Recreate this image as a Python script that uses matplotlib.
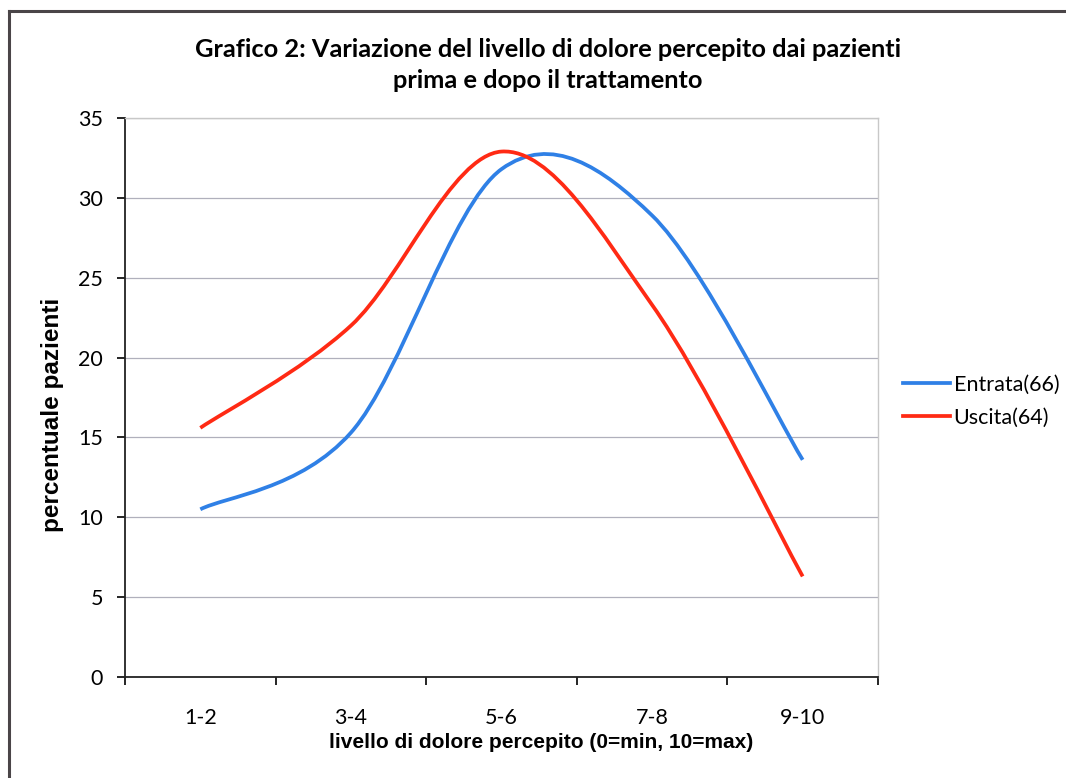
import matplotlib
matplotlib.use("Agg")
import matplotlib.pyplot as plt
from matplotlib.path import Path
from matplotlib.patches import PathPatch
from matplotlib.lines import Line2D

categories = ["1-2", "3-4", "5-6", "7-8", "9-10"]
entrata = [10.5, 15.3, 31.8, 28.9, 13.6]
uscita = [15.6, 22.0, 32.9, 23.3, 6.3]

BLUE = "#2f80e6"
RED = "#ff2a14"


def smooth_path(xs, ys):
    # excel-like smoothed line: cubic bezier through every point
    n = len(xs)
    verts = [(xs[0], ys[0])]
    codes = [Path.MOVETO]
    for i in range(n - 1):
        x0, y0 = xs[max(i - 1, 0)], ys[max(i - 1, 0)]
        x1, y1 = xs[i], ys[i]
        x2, y2 = xs[i + 1], ys[i + 1]
        x3, y3 = xs[min(i + 2, n - 1)], ys[min(i + 2, n - 1)]
        c1 = (x1 + (x2 - x0) / 6, y1 + (y2 - y0) / 6)
        c2 = (x2 - (x3 - x1) / 6, y2 - (y3 - y1) / 6)
        verts += [c1, c2, (x2, y2)]
        codes += [Path.CURVE4] * 3
    return Path(verts, codes)


fig = plt.figure(figsize=(10.66, 7.78), dpi=100)
ax = fig.add_axes([0.1173, 0.1298, 0.7063, 0.7185])

x = list(range(len(categories)))
for ys, col in ((entrata, BLUE), (uscita, RED)):
    patch = PathPatch(smooth_path(x, ys), facecolor="none", edgecolor=col,
                      lw=2.7, capstyle="butt", zorder=3)
    ax.add_patch(patch)

ax.set_xlim(-0.5, 4.5)
ax.set_ylim(0, 35)
ax.set_yticks(range(0, 36, 5))
ax.set_xticks([i - 0.5 for i in range(6)])
ax.set_xticklabels([])
ax.set_xticks(x, minor=True)
ax.set_xticklabels(categories, minor=True, fontfamily="Lato", fontsize=15.5)
ax.tick_params(axis="x", which="minor", length=0, pad=22)
ax.tick_params(axis="x", which="major", direction="out", length=6, width=1.2)
ax.tick_params(axis="y", direction="out", length=6, width=1.2, pad=10,
               labelsize=15.5)
for lab in ax.get_yticklabels():
    lab.set_fontfamily("Lato")
ax.yaxis.grid(True, color="#b0b0bc", lw=0.9)
ax.set_axisbelow(True)

for s in ("top", "right"):
    ax.spines[s].set_color("#c8c8c8")
    ax.spines[s].set_linewidth(1.0)
for s in ("left", "bottom"):
    ax.spines[s].set_color("#222222")
    ax.spines[s].set_linewidth(1.3)

fig.text(0.514, 0.937, "Grafico 2: Variazione del livello di dolore percepito dai pazienti",
         ha="center", va="center", fontsize=18.3, fontweight="bold", fontfamily="Lato")
fig.text(0.514, 0.896, "prima e dopo il trattamento",
         ha="center", va="center", fontsize=18.3, fontweight="bold", fontfamily="Lato")

fig.text(0.508, 0.046, "livello di dolore percepito (0=min, 10=max)",
         ha="center", va="center", fontsize=15, fontweight="bold",
         fontfamily="Liberation Sans")
fig.text(0.049, 0.467, "percentuale pazienti", rotation=90,
         ha="center", va="center", fontsize=17.5, fontweight="bold",
         fontfamily="Liberation Sans")

handles = [Line2D([], [], color=BLUE, lw=2.7), Line2D([], [], color=RED, lw=2.7)]
fig.legend(handles, ["Entrata(66)", "Uscita(64)"], loc="center left",
           bbox_to_anchor=(0.829, 0.484), frameon=False, handlelength=2.2,
           handletextpad=0.15, labelspacing=0.6, prop={"family": "Lato", "size": 15.5})

# outer chart frame (only top and left visible in the scan)
fig.add_artist(Line2D([0.0085, 0.0085], [0.0, 0.986], transform=fig.transFigure,
                      color="#4a4548", lw=2.2))
fig.add_artist(Line2D([0.0085, 1.0], [0.986, 0.986], transform=fig.transFigure,
                      color="#4a4548", lw=2.2))

fig.savefig("out.png", dpi=100)
